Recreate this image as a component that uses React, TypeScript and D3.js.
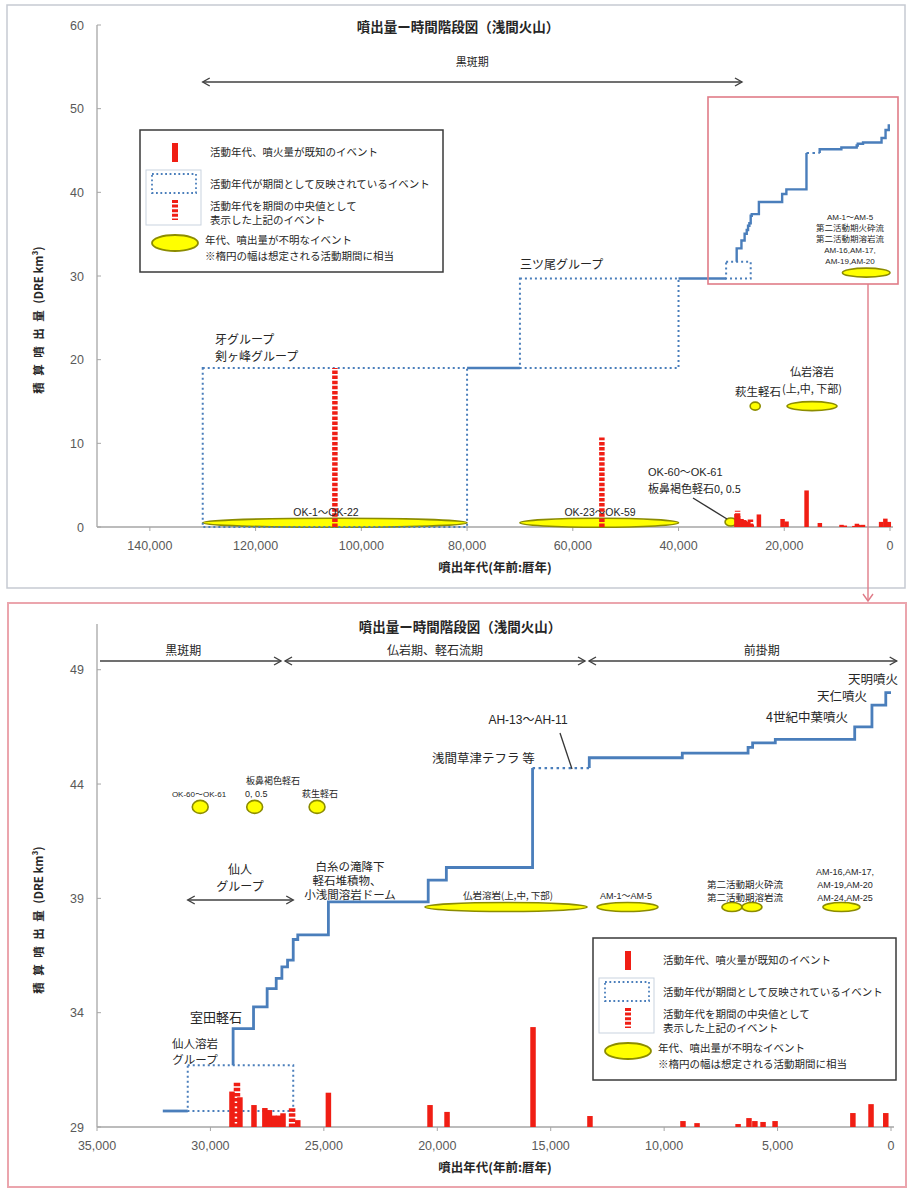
import React from "react";
import * as d3 from "d3";

const FONT_JP = "'Noto Sans CJK JP', 'Noto Sans', sans-serif";
const FONT_MIX = "'Liberation Sans', 'Noto Sans CJK JP', sans-serif";

// ---------------- data ----------------
const topXTicks = [140000, 120000, 100000, 80000, 60000, 40000, 20000, 0];
const topYTicks = [0, 10, 20, 30, 40, 50, 60];
const bottomXTicks = [35000, 30000, 25000, 20000, 15000, 10000, 5000, 0];
const bottomYTicks = [29, 34, 39, 44, 49];

// cumulative volume steps (year BP, cumulative DRE km3)
const stepAYears = [29000, 29000, 28100, 27500, 27100, 26850, 26600, 26350, 26150, 24800, 20400, 19600, 15800];
const stepAValues = [31.7, 33.3, 34.25, 35.05, 35.5, 36.0, 36.3, 37.2, 37.4, 38.85, 39.8, 40.35, 44.7];
const stepBYears = [13300, 13300, 9200, 6300, 6100, 5100, 1600, 840, 230, 0];
const stepBValues = [44.7, 45.15, 45.35, 45.6, 45.8, 45.95, 46.5, 47.45, 48.0, 48.0];

// activity periods shown as dotted boxes
const boxFrom = [130000, 70000, 31000];
const boxTo = [80000, 40000, 26350];
const boxLow = [0, 19, 29.7];
const boxHigh = [19, 29.7, 31.7];

// solid links between boxes
const linkFrom = [80000, 40000];
const linkTo = [70000, 31000];
const linkValue = [19, 29.7];
const bottomLeadFrom = 32100;

// uncertain interval AH-13〜AH-11
const gapYears = [15800, 13300];
const gapValue = 44.7;

// eruption volumes (bars)
const barYears = [105000, 54500, 29050, 28830, 28700, 28080, 27600, 27400, 27200, 27000, 26800, 26400, 26150, 24800, 20320, 19570, 15780, 13270, 9170, 8550, 6740, 6260, 6000, 5640, 5110, 1680, 880, 230];
const barVolumes = [19, 10.7, 1.55, 1.95, 1.3, 0.96, 0.83, 0.74, 0.5, 0.5, 0.6, 0.9, 0.3, 1.5, 0.96, 0.66, 4.37, 0.48, 0.26, 0.17, 0.13, 0.39, 0.26, 0.22, 0.26, 0.61, 1.0, 0.61];
const barDashed = [true, true, false, true, false, false, false, false, false, false, false, true, false, false, false, false, false, false, false, false, false, false, false, false, false, false, false, false];

// events of unknown age/volume (ellipses)
const topEllipseFrom = [130000, 70000, 31200, 26450, 19480, 9000];
const topEllipseTo = [80000, 40000, 29000, 24550, 10020, 0];
const topEllipseLevel = [0.5, 0.5, 0.6, 14.45, 14.45, 30.4];
const bottomEllipseFrom = [30800, 28400, 25650, 20540, 12960, 7450, 6570, 3000];
const bottomEllipseTo = [30100, 27700, 24950, 13400, 10270, 6570, 5690, 1370];
const bottomEllipseLevel = [43.0, 43.0, 43.0, 38.62, 38.62, 38.62, 38.62, 38.62];

// stages
const topPeriodNames = ["黒斑期"];
const topPeriodFrom = [130000];
const topPeriodTo = [28000];
const bottomPeriodNames = ["黒斑期", "仏岩期、軽石流期", "前掛期"];
const bottomPeriodFrom = [35000, 26800, 13400];
const bottomPeriodTo = [26800, 13400, -250];
const bottomPeriodLabelYear = [31200, 20100, 5700];

const TITLE = "噴出量ー時間階段図（浅間火山）";
const XTITLE = "噴出年代(年前:暦年)";

// ---------------- styles ----------------
const BLUE = "#4a7ebb";
const RED = "#f01e14";
const YEL = "#ffff00";
const OLIVE = "#8c8c00";
const AXIS = "#a6a6a6";
const TICK = "#595959";
const INK = "#262626";
const PINK = "#e07c88";

type Scale = d3.ScaleLinear<number, number>;

const chevron = (x: number, y: number, dir: number) =>
  `M${x - dir * 7},${y - 4}L${x},${y}L${x - dir * 7},${y + 4}`;

function Legend({ x, y }: { x: number; y: number }) {
  const fs = 10.5;
  return (
    <g transform={`translate(${x},${y})`} fontFamily={FONT_JP} fontSize={fs} fill={INK}>
      <rect x={0} y={0} width={303} height={142} fill="#fff" stroke="#3a3a3a" strokeWidth={1.5} />
      <rect x={32} y={13} width={6} height={19} fill={RED} />
      <text x={70} y={26}>活動年代、噴火量が既知のイベント</text>
      <rect x={6} y={40} width={55} height={55} fill="none" stroke="#c9d3df" strokeWidth={1} />
      <rect x={12} y={44} width={44} height={19} fill="none" stroke={BLUE} strokeWidth={1.8} strokeDasharray="1.8 2.6" />
      <text x={70} y={58}>活動年代が期間として反映されているイベント</text>
      <line x1={35} x2={35} y1={70} y2={90} stroke={RED} strokeWidth={6} strokeDasharray="3 1.6" />
      <text x={70} y={80}>活動年代を期間の中央値として</text>
      <text x={70} y={94}>表示した上記のイベント</text>
      <ellipse cx={35} cy={113} rx={23} ry={8} fill={YEL} stroke={OLIVE} strokeWidth={1.8} />
      <text x={65} y={114}>年代、噴出量が不明なイベント</text>
      <text x={65} y={130}>※楕円の幅は想定される活動期間に相当</text>
    </g>
  );
}

function Axes({ sx, sy, xTicks, yTicks, yLabelX }: { sx: Scale; sy: Scale; xTicks: number[]; yTicks: number[]; yLabelX: number }) {
  const [x0] = sx.range();
  const [y0, y1] = sy.range();
  const xEnd = sx.range()[1] + 3;
  return (
    <g>
      <line x1={x0} x2={x0} y1={y0} y2={y1} stroke={AXIS} strokeWidth={1.3} />
      <line x1={x0} x2={xEnd} y1={y0} y2={y0} stroke={AXIS} strokeWidth={1.3} />
      {yTicks.map((v) => (
        <g key={"y" + v}>
          <line x1={x0} x2={x0 + 4} y1={sy(v)} y2={sy(v)} stroke={AXIS} strokeWidth={1} />
          <text x={yLabelX} y={sy(v) + 4.5} textAnchor="end" fontFamily={FONT_MIX} fontSize={12.5} fill={TICK}>
            {v}
          </text>
        </g>
      ))}
      {xTicks.map((v) => (
        <g key={"x" + v}>
          <line x1={sx(v)} x2={sx(v)} y1={y0} y2={y0 + 4} stroke={AXIS} strokeWidth={1} />
          <text x={sx(v)} y={y0 + 23} textAnchor="middle" fontFamily={FONT_MIX} fontSize={12.5} fill={TICK}>
            {d3.format(",")(v)}
          </text>
        </g>
      ))}
    </g>
  );
}

function YTitle({ x, y }: { x: number; y: number }) {
  return (
    <text transform={`translate(${x},${y}) rotate(-90)`} textAnchor="middle" fontFamily={FONT_JP} fontSize={11.5} fontWeight="bold" fill={INK}>
      <tspan letterSpacing={6.5}>積算噴出量</tspan>
      <tspan letterSpacing={0}>(DRE km³)</tspan>
    </text>
  );
}

function Steps({ sx, sy, sw, showLinks, leadFrom }: { sx: Scale; sy: Scale; sw: number; showLinks: boolean; leadFrom: number }) {
  const line = d3
    .line<[number, number]>()
    .x((d) => sx(d[0]))
    .y((d) => sy(d[1]))
    .curve(d3.curveStepAfter);
  const a = stepAYears.map((t, i) => [t, stepAValues[i]] as [number, number]);
  const b = stepBYears.map((t, i) => [t, stepBValues[i]] as [number, number]);
  const links = showLinks
    ? linkFrom.map((f, i) => ({ f, t: linkTo[i], v: linkValue[i] }))
    : [{ f: leadFrom, t: linkTo[1], v: linkValue[1] }];
  return (
    <g fill="none">
      {links.map((l, i) => (
        <line key={i} x1={sx(l.f)} x2={sx(l.t)} y1={sy(l.v)} y2={sy(l.v)} stroke={BLUE} strokeWidth={sw} />
      ))}
      <path d={line(a) || ""} stroke={BLUE} strokeWidth={sw} />
      <line x1={sx(gapYears[0])} x2={sx(gapYears[1])} y1={sy(gapValue)} y2={sy(gapValue)} stroke={BLUE} strokeWidth={sw * 0.8} strokeDasharray="2.5 3.5" />
      <path d={line(b) || ""} stroke={BLUE} strokeWidth={sw} />
    </g>
  );
}

function Boxes({ sx, sy, idx }: { sx: Scale; sy: Scale; idx: number[] }) {
  return (
    <g fill="none">
      {idx.map((i) => {
        const x1 = sx(boxFrom[i]);
        const x2 = sx(boxTo[i]);
        const ya = sy(boxHigh[i]);
        const yb = sy(boxLow[i]);
        return <rect key={i} x={x1} y={ya} width={x2 - x1} height={yb - ya} stroke={BLUE} strokeWidth={2} strokeDasharray="2 3" />;
      })}
    </g>
  );
}

function Bars({ sx, sy, base, maxYear, w }: { sx: Scale; sy: Scale; base: number; maxYear: number; w: number }) {
  return (
    <g>
      {barYears.map((t, i) => {
        if (t > maxYear) return null;
        const x = sx(t);
        const y0 = sy(base);
        const y1 = sy(base + barVolumes[i]);
        if (barDashed[i]) {
          return <line key={i} x1={x} x2={x} y1={y0} y2={y1} stroke={RED} strokeWidth={w + 1} strokeDasharray="3.5 1.6" />;
        }
        return <rect key={i} x={x - w / 2} y={y1} width={w} height={y0 - y1} fill={RED} />;
      })}
    </g>
  );
}

function Ellipses({ sx, sy, from, to, level, ryLong, rySmall }: { sx: Scale; sy: Scale; from: number[]; to: number[]; level: number[]; ryLong: number; rySmall: number }) {
  return (
    <g>
      {from.map((f, i) => {
        const x1 = sx(f);
        const x2 = sx(to[i]);
        const rx = (x2 - x1) / 2;
        const ry = rx < 9 ? Math.min(rySmall, rx * 0.85) : ryLong;
        return <ellipse key={i} cx={(x1 + x2) / 2} cy={sy(level[i])} rx={rx} ry={ry} fill={YEL} stroke={OLIVE} strokeWidth={1.6} />;
      })}
    </g>
  );
}

export default function App() {
  const tx = d3.scaleLinear().domain([150000, 0]).range([97, 890]);
  const ty = d3.scaleLinear().domain([0, 60]).range([527, 25]);
  const bx = d3.scaleLinear().domain([35000, 0]).range([97, 891]);
  const by = d3.scaleLinear().domain([29, 51]).range([1127, 624]);

  const arrowY = 661;
  return (
    <svg width={908} height={1189} style={{ position: "absolute", left: 0, top: 0, background: "#fff" }} xmlns="http://www.w3.org/2000/svg">
      <rect x={0} y={0} width={908} height={1189} fill="#fff" />
      {/* ================= TOP PANEL ================= */}
      <rect x={7} y={5} width={898} height={583} fill="none" stroke="#c6cad2" strokeWidth={1.5} />
      <text x={458} y={32} textAnchor="middle" fontFamily={FONT_JP} fontSize={13.5} fontWeight="bold" fill={INK}>
        {TITLE}
      </text>
      <Axes sx={tx} sy={ty} xTicks={topXTicks} yTicks={topYTicks} yLabelX={84} />
      <YTitle x={43} y={320} />
      <text x={495} y={572} textAnchor="middle" fontFamily={FONT_JP} fontSize={12.5} fontWeight="bold" fill={INK}>
        {XTITLE}
      </text>

      {/* stage arrow */}
      {topPeriodNames.map((n, i) => {
        const x1 = tx(topPeriodFrom[i]);
        const x2 = tx(topPeriodTo[i]);
        return (
          <g key={n}>
            <line x1={x1} x2={x2} y1={82} y2={82} stroke="#404040" strokeWidth={1.4} />
            <path d={chevron(x1, 82, -1)} fill="none" stroke="#404040" strokeWidth={1.4} />
            <path d={chevron(x2, 82, 1)} fill="none" stroke="#404040" strokeWidth={1.4} />
            <text x={(x1 + x2) / 2} y={66} textAnchor="middle" fontFamily={FONT_JP} fontSize={11} fill={INK}>
              {n}
            </text>
          </g>
        );
      })}

      <Legend x={140} y={130} />

      <Ellipses sx={tx} sy={ty} from={topEllipseFrom} to={topEllipseTo} level={topEllipseLevel} ryLong={4.5} rySmall={4} />
      <Boxes sx={tx} sy={ty} idx={[0, 1, 2]} />
      <Steps sx={tx} sy={ty} sw={2.4} showLinks={true} leadFrom={linkFrom[1]} />
      <Bars sx={tx} sy={ty} base={0} maxYear={200000} w={4.5} />

      {/* top annotations */}
      <g fontFamily={FONT_JP} fill={INK}>
        <text x={215} y={344} fontSize={12}>牙グループ</text>
        <text x={215} y={361} fontSize={12}>剣ヶ峰グループ</text>
        <text x={520} y={269} fontSize={12}>三ツ尾グループ</text>
        <text x={812} y={376} fontSize={11} textAnchor="middle">仏岩溶岩</text>
        <text x={812} y={393} fontSize={11} textAnchor="middle">(上,中, 下部)</text>
        <text x={758} y={396} fontSize={11.5} textAnchor="middle">萩生軽石</text>
        <text x={648} y={493} fontSize={11}>板鼻褐色軽石0, 0.5</text>
      </g>
      <g fontFamily={FONT_MIX} fill={INK} fontSize={10.5}>
        <text x={326} y={516} textAnchor="middle">OK-1〜OK-22</text>
        <text x={600} y={516} textAnchor="middle">OK-23〜OK-59</text>
        <text x={648} y={476} fontSize={11}>OK-60〜OK-61</text>
      </g>
      <line x1={693} y1={498} x2={727} y2={519} stroke="#333" strokeWidth={1.4} />

      {/* inset frame */}
      <rect x={708} y={97} width={190} height={187} fill="none" stroke={PINK} strokeWidth={1.6} />
      <g fontFamily={FONT_MIX} fill={INK} fontSize={8} textAnchor="middle">
        <text x={850} y={220}>AM-1〜AM-5</text>
        <text x={850} y={231} fontFamily={FONT_JP} fontSize={8.5}>第二活動期火砕流</text>
        <text x={850} y={242} fontFamily={FONT_JP} fontSize={8.5}>第二活動期溶岩流</text>
        <text x={850} y={253}>AM-16,AM-17,</text>
        <text x={850} y={264}>AM-19,AM-20</text>
      </g>
      <line x1={868} x2={868} y1={284} y2={601} stroke={PINK} strokeWidth={1.4} />
      <path d="M863,594L868,601L873,594" fill="none" stroke={PINK} strokeWidth={1.4} />

      {/* ================= BOTTOM PANEL ================= */}
      <rect x={8} y={603} width={898} height={584} fill="none" stroke="#eba5ad" strokeWidth={2} />
      <text x={460} y={632} textAnchor="middle" fontFamily={FONT_JP} fontSize={13.5} fontWeight="bold" fill={INK}>
        {TITLE}
      </text>
      <Axes sx={bx} sy={by} xTicks={bottomXTicks} yTicks={bottomYTicks} yLabelX={84} />
      <YTitle x={43} y={920} />
      <text x={495} y={1172} textAnchor="middle" fontFamily={FONT_JP} fontSize={12.5} fontWeight="bold" fill={INK}>
        {XTITLE}
      </text>

      {bottomPeriodNames.map((n, i) => {
        const x1 = bx(bottomPeriodFrom[i]) + (i === 0 ? 3 : 2);
        const x2 = bx(bottomPeriodTo[i]) - (i === 2 ? 0 : 2);
        return (
          <g key={n}>
            <line x1={x1} x2={x2} y1={arrowY} y2={arrowY} stroke="#404040" strokeWidth={1.4} />
            {i > 0 && <path d={chevron(x1, arrowY, -1)} fill="none" stroke="#404040" strokeWidth={1.4} />}
            <path d={chevron(x2, arrowY, 1)} fill="none" stroke="#404040" strokeWidth={1.4} />
            <text x={bx(bottomPeriodLabelYear[i])} y={655} textAnchor="middle" fontFamily={FONT_JP} fontSize={12} fill={INK}>
              {n}
            </text>
          </g>
        );
      })}

      {/* 仙人グループ arrow */}
      <line x1={bx(boxFrom[2])} x2={bx(boxTo[2])} y1={900} y2={900} stroke="#404040" strokeWidth={1.4} />
      <path d={chevron(bx(boxFrom[2]), 900, -1)} fill="none" stroke="#404040" strokeWidth={1.4} />
      <path d={chevron(bx(boxTo[2]), 900, 1)} fill="none" stroke="#404040" strokeWidth={1.4} />

      <Ellipses sx={bx} sy={by} from={bottomEllipseFrom} to={bottomEllipseTo} level={bottomEllipseLevel} ryLong={4.5} rySmall={6.5} />
      <Boxes sx={bx} sy={by} idx={[2]} />
      <Steps sx={bx} sy={by} sw={2.8} showLinks={false} leadFrom={bottomLeadFrom} />
      <Bars sx={bx} sy={by} base={29} maxYear={35000} w={5.5} />

      {/* bottom annotations */}
      <g fontFamily={FONT_JP} fill={INK}>
        <text x={898} y={684} fontSize={12.5} textAnchor="end">天明噴火</text>
        <text x={867} y={701} fontSize={12.5} textAnchor="end">天仁噴火</text>
        <text x={848} y={722} fontSize={12.5} textAnchor="end">4世紀中葉噴火</text>
        <text x={432} y={763} fontSize={12.5}>浅間草津テフラ 等</text>
        <text x={273} y={784} fontSize={9} textAnchor="middle">板鼻褐色軽石</text>
        <text x={320} y={797} fontSize={9} textAnchor="middle">萩生軽石</text>
        <text x={240} y={874} fontSize={12} textAnchor="middle">仙人</text>
        <text x={240} y={891} fontSize={12} textAnchor="middle">グループ</text>
        <text x={350} y={871} fontSize={11.5} textAnchor="middle">白糸の滝降下</text>
        <text x={347} y={885} fontSize={11.5} textAnchor="middle">軽石堆積物、</text>
        <text x={350} y={899} fontSize={11.5} textAnchor="middle">小浅間溶岩ドーム</text>
        <text x={508} y={899} fontSize={9.5} textAnchor="middle">仏岩溶岩(上,中, 下部)</text>
        <text x={745} y={888} fontSize={9.5} textAnchor="middle">第二活動期火砕流</text>
        <text x={745} y={901} fontSize={9.5} textAnchor="middle">第二活動期溶岩流</text>
        <text x={216} y={1022} fontSize={13} textAnchor="middle">室田軽石</text>
        <text x={195} y={1048} fontSize={11.5} textAnchor="middle">仙人溶岩</text>
        <text x={195} y={1064} fontSize={11.5} textAnchor="middle">グループ</text>
      </g>
      <g fontFamily={FONT_MIX} fill={INK}>
        <text x={528} y={724} fontSize={12} textAnchor="middle">AH-13〜AH-11</text>
        <text x={199} y={797} fontSize={8} textAnchor="middle">OK-60〜OK-61</text>
        <text x={245} y={797} fontSize={9}>0, 0.5</text>
        <text x={626} y={899} fontSize={9} textAnchor="middle">AM-1〜AM-5</text>
        <text x={845} y={875} fontSize={9} textAnchor="middle">AM-16,AM-17,</text>
        <text x={845} y={888} fontSize={9} textAnchor="middle">AM-19,AM-20</text>
        <text x={845} y={901} fontSize={9} textAnchor="middle">AM-24,AM-25</text>
      </g>
      <line x1={560} y1={733} x2={572} y2={769} stroke="#333" strokeWidth={1.3} />

      <Legend x={593} y={938} />
    </svg>
  );
}
